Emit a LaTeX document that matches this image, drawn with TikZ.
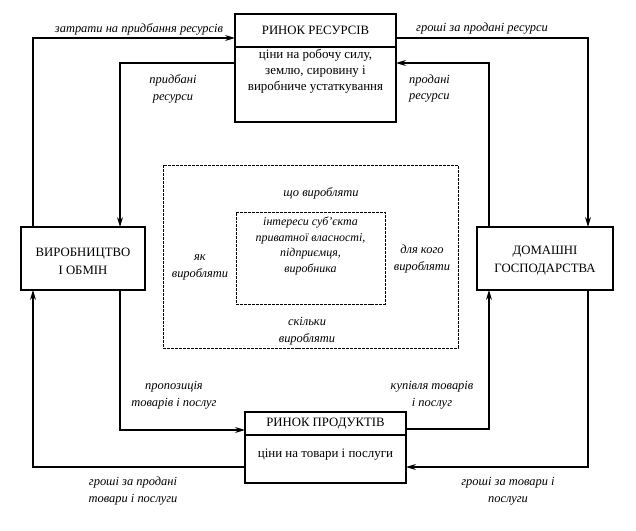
\documentclass[tikz,border=0pt]{standalone}
\usepackage{fontspec}
\setmainfont{Liberation Serif}
\usetikzlibrary{arrows.meta}
\tikzset{
  box/.style={draw, line width=1.2pt, inner sep=0pt, outer sep=0pt},
  cbox/.style={draw, line width=0.7pt, dash pattern=on 3pt off 1pt, inner sep=0pt, outer sep=0pt},
  hdr/.style={font=\fontsize{12.8}{18}\selectfont, align=center, inner sep=0pt},
  body/.style={font=\fontsize{13}{16}\selectfont, align=center, inner sep=0pt},
  lbl/.style={font=\fontsize{12.5}{17}\selectfont\itshape, align=center, inner sep=0pt},
  ctr/.style={font=\fontsize{12}{15.5}\selectfont\itshape, align=center, inner sep=0pt},
  conn/.style={line width=1.2pt},
  arr/.style={conn, -{Stealth[length=10pt,width=6pt]}}
}
\begin{document}
\begin{tikzpicture}[x=1bp,y=-1bp]
\useasboundingbox (0,0) rectangle (636,531);
% boxes
\node[box, minimum width=161bp, minimum height=108bp] (res) at (315.5,68) {};
\node[box, minimum width=161bp, minimum height=71bp] (prod) at (325.5,447.5) {};
\node[box, minimum width=124bp, minimum height=63bp] (vir) at (83,258.5) {};
\node[box, minimum width=136bp, minimum height=63bp] (dom) at (545,258.5) {};
\node[cbox, minimum width=295bp, minimum height=183bp] (outer) at (310.5,256.5) {};
\node[cbox, minimum width=149bp, minimum height=92bp] (inner) at (310.5,258) {};
% header dividers
\coordinate (rh) at (315,47);
\coordinate (ph) at (325,435);
\draw[box] (rh -| res.west) -- (rh -| res.east);
\draw[box] (ph -| prod.west) -- (ph -| prod.east);
% box texts
\node[hdr] (resT) at (315.5,30.5) {РИНОК РЕСУРСІВ};
\node[body] (resB) at (315.5,71) {ціни на робочу силу,\\землю, сировину і\\виробниче устаткування};
\node[hdr] (prodT) at (325.5,423.5) {РИНОК ПРОДУКТІВ};
\node[body] (prodB) at (325.5,455) {ціни на товари і послуги};
\node[hdr] (virT) at (83,261) {ВИРОБНИЦТВО\\І ОБМІН};
\node[hdr] (domT) at (545,261) {ДОМАШНІ\\ГОСПОДАРСТВА};
% center texts
\node[ctr] (inT) at (310.5,246) {інтереси суб'єкта\\приватної власності,\\підприємця,\\виробника};
\node[lbl] (q1) at (321,193) {що виробляти};
\node[lbl] (q2) at (200,267) {як\\виробляти};
\node[lbl] (q3) at (422,259) {для кого\\виробляти};
\node[lbl] (q4) at (307,331.5) {скільки\\виробляти};
% connector corners
\coordinate (c1) at (33,38);
\coordinate (c2) at (120,63);
\coordinate (c3) at (588,38);
\coordinate (c4) at (489,63);
\coordinate (c5) at (120,430);
\coordinate (c6) at (33,467);
\coordinate (c7) at (489,429);
\coordinate (c8) at (588,467);
\draw[arr] (c1 |- vir.north) -- (c1) -- (c1 -| res.west);
\draw[arr] (c2 -| res.west) -- (c2) -- (c2 |- vir.north);
\draw[arr] (c3 -| res.east) -- (c3) -- (c3 |- dom.north);
\draw[arr] (c4 |- dom.north) -- (c4) -- (c4 -| res.east);
\draw[arr] (c5 |- vir.south) -- (c5) -- (c5 -| prod.west);
\draw[arr] (c6 -| prod.west) -- (c6) -- (c6 |- vir.south);
\draw[arr] (c7 -| prod.east) -- (c7) -- (c7 |- dom.south);
\draw[arr] (c8 |- dom.south) -- (c8) -- (c8 -| prod.east);
% connector labels
\node[lbl] (l1) at (139,29) {затрати на придбання ресурсів};
\node[lbl] (l2) at (173,88.5) {придбані\\ресурси};
\node[lbl] (l3) at (482,29) {гроші за продані ресурси};
\node[lbl, align=left, anchor=west] (l4) at (409,88.5) {продані\\ресурси};
\node[lbl] (l5) at (174,395) {пропозиція\\товарів і послуг};
\node[lbl] (l6) at (133,491) {гроші за продані\\товари і послуги};
\node[lbl] (l7) at (432,395) {купівля товарів\\і послуг};
\node[lbl] (l8) at (508,491) {гроші за товари і\\послуги};
\end{tikzpicture}
\end{document}
